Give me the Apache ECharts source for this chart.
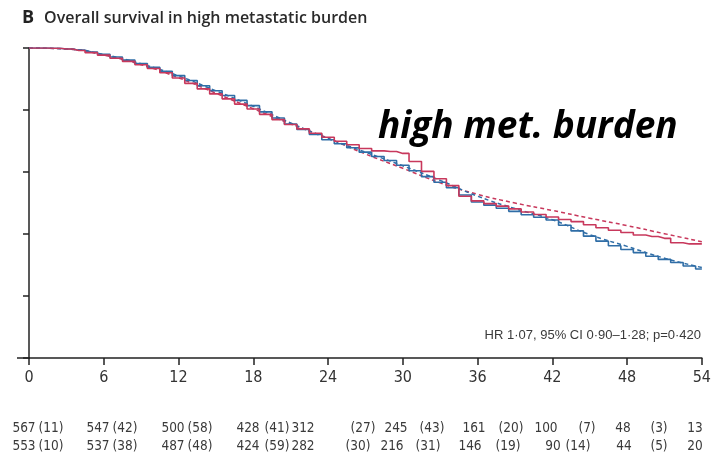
<!DOCTYPE html>
<html>
<head>
<meta charset="utf-8">
<script src="https://cdn.jsdelivr.net/npm/echarts@6/dist/echarts.min.js"></script>
<style>
html, body { margin: 0; padding: 0; background: #fff; }
#container1 { width: 714px; height: 470px; }
</style>
</head>
<body>
<div id="container1"></div>
<script>
// months since randomisation
var months = [0, 1, 2, 3, 4, 5, 6, 7, 8, 9, 10, 11, 12, 13, 14, 15, 16, 17, 18, 19, 20,
	21, 22, 23, 24, 25, 26, 27, 28, 29, 30, 31, 32, 33, 34, 35, 36, 37, 38, 39, 40,
	41, 42, 43, 44, 45, 46, 47, 48, 49, 50, 51, 52, 53, 54];
// Kaplan-Meier estimates
var redKM = [1.000, 1.000, 0.999, 0.997, 0.992, 0.985, 0.977, 0.967, 0.957, 0.946, 0.934,
	0.920, 0.903, 0.886, 0.868, 0.852, 0.836, 0.819, 0.803, 0.786, 0.769,
	0.753, 0.739, 0.725, 0.712, 0.699, 0.688, 0.676, 0.668, 0.666, 0.660,
	0.634, 0.602, 0.578, 0.556, 0.522, 0.507, 0.498, 0.490, 0.481, 0.471,
	0.463, 0.455, 0.447, 0.440, 0.430, 0.420, 0.412, 0.405, 0.397, 0.392,
	0.386, 0.372, 0.368, 0.368];
var blueKM = [1.000, 1.000, 0.999, 0.997, 0.993, 0.987, 0.980, 0.971, 0.961, 0.950, 0.938,
	0.925, 0.911, 0.895, 0.878, 0.862, 0.847, 0.831, 0.814, 0.794, 0.774,
	0.755, 0.737, 0.721, 0.704, 0.691, 0.678, 0.664, 0.650, 0.637, 0.622,
	0.604, 0.585, 0.567, 0.549, 0.526, 0.503, 0.493, 0.483, 0.473, 0.462,
	0.454, 0.445, 0.428, 0.410, 0.393, 0.377, 0.362, 0.350, 0.340, 0.328,
	0.318, 0.308, 0.297, 0.287];
// fitted (dashed) curves
var fitMonths = [0, 3, 6, 9, 12, 15, 18, 21, 24, 27, 30, 33, 36, 39, 42, 45, 48, 51, 54];
var redFit = [1.000, 0.997, 0.977, 0.946, 0.904, 0.854, 0.804, 0.755, 0.709, 0.658, 0.612,
	0.565, 0.528, 0.500, 0.476, 0.451, 0.427, 0.401, 0.375];
var blueFit = [1.000, 0.997, 0.979, 0.949, 0.910, 0.862, 0.812, 0.758, 0.708, 0.664, 0.620,
	0.573, 0.522, 0.482, 0.446, 0.398, 0.360, 0.322, 0.292];
var xTicks = [0, 6, 12, 18, 24, 30, 36, 42, 48, 54];
// numbers at risk (censored in brackets)
var risk1 = [567, 547, 500, 428, 312, 245, 161, 100, 48, 13];
var cens1 = [11, 42, 58, 41, 27, 43, 20, 7, 3];
var risk2 = [553, 537, 487, 424, 282, 216, 146, 90, 44, 20];
var cens2 = [10, 38, 48, 59, 30, 31, 19, 14, 5];

var risk1X = [24, 98, 173, 248, 303, 396, 474, 546, 623, 695];
var cens1X = [51, 125, 200, 277, 363, 432, 511, 587, 659];
var risk2X = [24, 98, 173, 248, 303, 392, 470, 553, 624, 695];
var cens2X = [51, 125, 200, 277, 358, 428, 508, 578, 659];

var RED = '#c8385c', BLUE = '#2f6da6';
var narrow = "'Liberation Sans Narrow', 'DejaVu Sans Condensed', sans-serif";

function pairs(xs, ys) {
	var out = [];
	for (var i = 0; i < xs.length; i++) out.push([xs[i], ys[i]]);
	return out;
}

function riskTexts(vals, xs, y, paren) {
	var out = [];
	for (var i = 0; i < vals.length; i++) {
		out.push({
			type : 'text', x : xs[i], y : y,
			style : {
				text : paren ? '(' + vals[i] + ')' : String(vals[i]),
				fill : '#3a3a3a', font : '13.5px ' + narrow,
				textAlign : 'center', textVerticalAlign : 'middle'
			}
		});
	}
	return out;
}

var dom = document.getElementById('container1');
var myChart = echarts.init(dom);

var graphics = [ {
	type : 'line', shape : { x1 : 17, y1 : 358, x2 : 30, y2 : 358 },
	style : { stroke : '#222', lineWidth : 1.5 }
}, {
	type : 'text', left : 378, top : 109,
	style : {
		text : 'high met. burden', fill : '#000',
		font : 'italic bold 37px "Open Sans", sans-serif'
	}
}, {
	type : 'text', x : 701, y : 335,
	style : {
		text : 'HR 1·07, 95% CI 0·90–1·28; p=0·420', fill : '#3a3a3a',
		font : '13px "Liberation Sans", sans-serif',
		textAlign : 'right', textVerticalAlign : 'middle'
	}
} ];
graphics = graphics.concat(riskTexts(risk1, risk1X, 428, false), riskTexts(cens1, cens1X, 428, true),
	riskTexts(risk2, risk2X, 446, false), riskTexts(cens2, cens2X, 446, true));

myChart.setOption({
	animation : false,
	title : {
		left : 17, top : 4,
		text : '{b|B}  {t|Overall survival in high metastatic burden}',
		textStyle : {
			rich : {
				b : { fontSize : 18, fontWeight : 'bold', color : '#222', fontFamily : 'Open Sans' },
				t : { fontSize : 16, fontWeight : 600, color : '#2a2a2a', fontFamily : 'Open Sans' }
			}
		}
	},
	grid : { left : 29, right : 12, top : 48, bottom : 112 },
	xAxis : {
		type : 'value', min : 0, max : 54, interval : 6,
		axisLine : { lineStyle : { color : '#222', width : 1.5 } },
		axisTick : { show : true, length : 7, lineStyle : { color : '#222', width : 1.5 } },
		axisLabel : {
			color : '#333', fontSize : 16, fontFamily : narrow, margin : 12,
			formatter : function(v) { return xTicks.indexOf(v) >= 0 ? String(v) : ''; }
		},
		splitLine : { show : false }
	},
	yAxis : {
		type : 'value', min : 0, max : 1, interval : 0.2,
		axisLine : { show : true, lineStyle : { color : '#222', width : 1.5 } },
		axisTick : { show : true, length : 6, lineStyle : { color : '#222', width : 1.5 } },
		axisLabel : { show : false },
		splitLine : { show : false }
	},
	series : [ {
		name : 'red fit', type : 'line', smooth : true, symbol : 'none',
		data : pairs(fitMonths, redFit),
		lineStyle : { color : RED, width : 1.5, type : [4, 3] }
	}, {
		name : 'blue fit', type : 'line', smooth : true, symbol : 'none',
		data : pairs(fitMonths, blueFit),
		lineStyle : { color : BLUE, width : 1.5, type : [4, 3] }
	}, {
		name : 'blue KM', type : 'line', step : 'middle', symbol : 'none',
		data : pairs(months, blueKM),
		lineStyle : { color : BLUE, width : 1.6 }
	}, {
		name : 'red KM', type : 'line', step : 'middle', symbol : 'none',
		data : pairs(months, redKM),
		lineStyle : { color : RED, width : 1.6 }
	} ],
	graphic : graphics
});
</script>
</body>
</html>
